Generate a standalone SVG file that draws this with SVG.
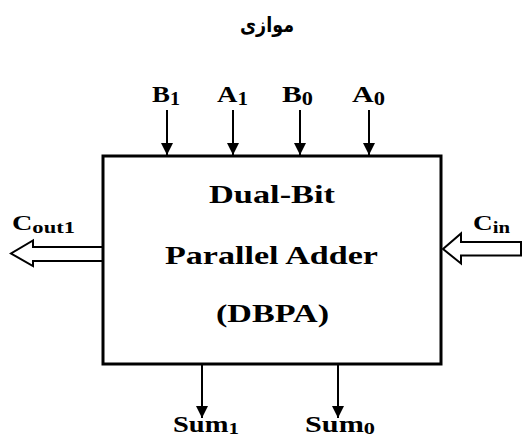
<svg xmlns="http://www.w3.org/2000/svg" width="522" height="439" viewBox="0 0 522 439">
<style>
.t{font-family:"Liberation Serif","Times New Roman",serif;font-weight:bold;fill:#000}
.ln{stroke:#000;stroke-width:2;fill:none}
.hol{stroke:#000;stroke-width:2;fill:#fff;stroke-linejoin:miter}
</style>
<defs>
<marker id="ah" markerUnits="userSpaceOnUse" markerWidth="14" markerHeight="12" refX="12" refY="6" orient="auto">
<path d="M0,0 L12,6 L0,12 Z" fill="#000"/>
</marker>
</defs>
<rect width="522" height="439" fill="#fff"/>
<text x="267" y="32" text-anchor="middle" font-family="DejaVu Sans,sans-serif" font-weight="bold" font-size="21" textLength="54" lengthAdjust="spacingAndGlyphs">موازی</text>
<g id="connectors">
<line class="ln" x1="167" y1="110" x2="167" y2="155" marker-end="url(#ah)"/>
<line class="ln" x1="233" y1="110" x2="233" y2="155" marker-end="url(#ah)"/>
<line class="ln" x1="300" y1="110" x2="300" y2="155" marker-end="url(#ah)"/>
<line class="ln" x1="369" y1="110" x2="369" y2="155" marker-end="url(#ah)"/>
<line class="ln" x1="202" y1="365" x2="202" y2="418" marker-end="url(#ah)"/>
<line class="ln" x1="338" y1="365" x2="338" y2="418" marker-end="url(#ah)"/>
<polygon class="hol" points="103,247 33,247 33,240.5 11,253.5 33,266 33,261 103,261"/>
<polygon class="hol" points="521,242 461,242 461,233.5 443,249 461,263.5 461,255.5 521,255.5"/>
</g>
<g id="dbpa">
<rect x="103" y="156" width="338" height="208" fill="#fff" stroke="#000" stroke-width="3"/>
<text class="t" x="272" y="203" text-anchor="middle" font-size="25" textLength="126" lengthAdjust="spacingAndGlyphs">Dual-Bit</text>
<text class="t" x="271.5" y="264" text-anchor="middle" font-size="25" textLength="213" lengthAdjust="spacingAndGlyphs">Parallel Adder</text>
<text class="t" x="272.5" y="322" text-anchor="middle" font-size="25" textLength="113" lengthAdjust="spacingAndGlyphs">(DBPA)</text>
</g>
<g id="labels">
<text class="t" x="152" y="102" font-size="24" textLength="28" lengthAdjust="spacingAndGlyphs">B<tspan font-size="18" dy="3">1</tspan></text>
<text class="t" x="217" y="102" font-size="24" textLength="31" lengthAdjust="spacingAndGlyphs">A<tspan font-size="18" dy="3">1</tspan></text>
<text class="t" x="282" y="102" font-size="24" textLength="31" lengthAdjust="spacingAndGlyphs">B<tspan font-size="18" dy="3">0</tspan></text>
<text class="t" x="352" y="102" font-size="24" textLength="33" lengthAdjust="spacingAndGlyphs">A<tspan font-size="18" dy="3">0</tspan></text>
<text class="t" x="12" y="230" font-size="20" textLength="63" lengthAdjust="spacingAndGlyphs">C<tspan font-size="16" dy="3">out1</tspan></text>
<text class="t" x="473" y="230" font-size="21" textLength="37" lengthAdjust="spacingAndGlyphs">C<tspan font-size="16" dy="3">in</tspan></text>
<text class="t" x="173" y="432" font-size="23" textLength="66" lengthAdjust="spacingAndGlyphs">Sum<tspan font-size="17" dy="2">1</tspan></text>
<text class="t" x="305" y="432" font-size="23" textLength="70" lengthAdjust="spacingAndGlyphs">Sum<tspan font-size="17" dy="2">0</tspan></text>
</g>
</svg>
